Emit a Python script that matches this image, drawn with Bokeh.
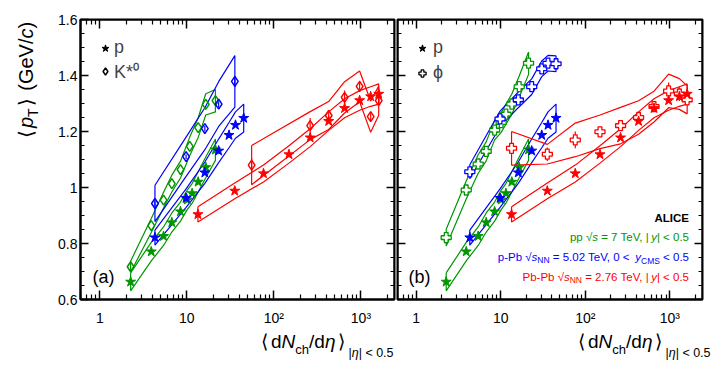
import math
from bokeh.plotting import figure
from bokeh.layouts import row, column
from bokeh.models import (Range1d, LogAxis, LinearAxis, FixedTicker, Label, Legend,
                          LegendItem, CustomJSTickFormatter, Div)
from bokeh.embed import file_html
from bokeh.resources import INLINE

# ---------------- data ----------------
x_tick_values = [1, 10, 100, 1000]
x_tick_labels = ["1", "10", "10²", "10³"]
y_tick_values = [0.6, 0.8, 1.0, 1.2, 1.4, 1.6]
y_tick_labels = ["0.6", "0.8", "1", "1.2", "1.4", "1.6"]

# pp 7 TeV
pp_dndeta = [2.26, 3.9, 5.4, 6.72, 8.45, 10.1, 11.5, 13.5, 16.5, 21.3]
pp_p_mean = [0.663, 0.771, 0.826, 0.875, 0.914, 0.956, 0.979, 1.020, 1.072, 1.135]
pp_p_sys = [0.032, 0.033, 0.033, 0.034, 0.034, 0.035, 0.035, 0.036, 0.037, 0.038]
pp_kst_dndeta = [2.26, 3.9, 5.4, 6.72, 8.45, 10.8, 13.5, 16.5, 21.3]
pp_kst_mean = [0.717, 0.864, 0.955, 1.014, 1.064, 1.147, 1.214, 1.297, 1.310]
pp_kst_sys = [0.020, 0.025, 0.028, 0.030, 0.030, 0.033, 0.035, 0.038, 0.040]
pp_phi_mean = [0.821, 0.991, 1.084, 1.129, 1.205, 1.232, 1.262, 1.298, 1.360, 1.444]
pp_phi_sys = [0.030, 0.032, 0.033, 0.034, 0.035, 0.035, 0.036, 0.036, 0.038, 0.040]

# p-Pb 5.02 TeV
ppb_dndeta = [4.3, 9.8, 16.1, 23.2, 30.5, 36.2, 45.0]
ppb_p_mean = [0.821, 0.962, 1.053, 1.131, 1.187, 1.223, 1.248]
ppb_p_sys = [0.027, 0.033, 0.038, 0.042, 0.045, 0.047, 0.050]
ppb_kst_dndeta = [4.3, 9.8, 16.1, 23.2, 35.6]
ppb_kst_mean = [0.943, 1.110, 1.210, 1.298, 1.379]
ppb_kst_sys = [0.065, 0.070, 0.075, 0.080, 0.092]
ppb_kst_stat = [0.008, 0.008, 0.010, 0.012, 0.020]
ppb_phi_mean = [1.056, 1.245, 1.313, 1.360, 1.424, 1.444, 1.442]
ppb_phi_sys = [0.025, 0.028, 0.028, 0.028, 0.028, 0.028, 0.028]

# Pb-Pb 2.76 TeV
pbpb_dndeta = [13.4, 35.5, 76, 149, 261, 426, 649, 966, 1294, 1601]
pbpb_p_mean = [0.904, 0.988, 1.050, 1.118, 1.178, 1.237, 1.283, 1.311, 1.325, 1.334]
pbpb_p_sys = [0.027, 0.028, 0.030, 0.031, 0.032, 0.033, 0.034, 0.035, 0.035, 0.036]
pbpb_kst_dndeta = [55.5, 261, 426, 649, 966, 1294, 1601]
pbpb_kst_mean = [1.080, 1.221, 1.257, 1.322, 1.361, 1.253, 1.310]
pbpb_kst_sys = [0.070, 0.050, 0.050, 0.056, 0.055, 0.056, 0.052]
pbpb_kst_stat = [0.025, 0.027, 0.012, 0.024, 0.020, 0.015, 0.015]
pbpb_phi_mean = [1.140, 1.119, 1.170, 1.199, 1.221, 1.250, 1.289, 1.345, 1.334, 1.313]
pbpb_phi_sys = [0.060, 0.035, 0.060, 0.060, 0.065, 0.060, 0.055, 0.060, 0.055, 0.050]
pbpb_phi_stat = [0.020, 0.024, 0.030, 0.015, 0.015, 0.012, 0.015, 0.030, 0.025, 0.015]

GREEN = "#009600"
BLUE = "#0000ff"
RED = "#ff0000"
FONT = "Liberation Sans"

X_RANGE = (0.6, 2430)
Y_RANGE = (0.6, 1.6)

x_minor = []
for dec in [0.1, 1, 10, 100, 1000]:
    for k in range(2, 10):
        v = dec * k
        if X_RANGE[0] <= v <= X_RANGE[1] and v not in x_tick_values:
            x_minor.append(v)
y_minor = [round(0.6 + 0.05 * i, 3) for i in range(21)]

# ---------------- geometry (page px) ----------------
YT_W = 46           # width of y-title column
FIG_H = 330
TOP = 19
BOT = 31            # frame bottom at 299
FL1, FL2, FB = 80, 397, 299

# ---------------- helpers ----------------
W = {' ': 278, ',': 278, '-': 333, '.': 278, '/': 278, '<': 584, '=': 584, '|': 260,
     '(': 333, ')': 333, 'A': 667, 'C': 722, 'E': 667, 'G': 778, 'I': 278, 'L': 556,
     'M': 833, 'N': 722, 'P': 667, 'S': 667, 'T': 611, 'V': 667, 'b': 556, 'c': 500,
     'd': 556, 'e': 556, 'h': 556, 'p': 556, 's': 500, 'y': 500, '√': 549}
WB = {'A': 722, 'L': 611, 'I': 278, 'C': 722, 'E': 667}


def tw(s, size, bold=False):
    tab = WB if bold else W
    return sum(tab.get(ch, W.get(ch, 556)) for ch in s) * size / 1000.0


def add_text(fig, fl, pieces, x0, y0, align="left", color="black"):
    total = sum(tw(t, sz, st == "bold") for t, sz, st, sh in pieces)
    cum = 0.0
    start = x0 - total if align == "right" else x0
    for t, sz, st, sh in pieces:
        lead = len(t) - len(t.lstrip(" "))
        core = t.strip(" ")
        fig.add_layout(Label(x=start + cum + tw(" " * lead, sz) - fl, y=FB - (y0 + sh),
                             x_units="screen", y_units="screen", text=core, text_font=FONT,
                             text_font_size=f"{sz}px", text_font_style=st,
                             text_color=color, text_align="left",
                             text_baseline="alphabetic"))
        cum += tw(t, sz, st == "bold")


def band(fig, x, y, s, color):
    xs = list(x) + list(x)[::-1]
    up = [a + b for a, b in zip(y, s)]
    lo = [a - b for a, b in zip(y, s)]
    ys = up + lo[::-1]
    xs.append(xs[0])
    ys.append(ys[0])
    fig.line(xs, ys, line_color=color, line_width=1.2)


def errs(fig, x, y, e, color):
    fig.segment(x0=x, y0=[a - b for a, b in zip(y, e)], x1=x,
                y1=[a + b for a, b in zip(y, e)], line_color=color, line_width=1.2)


def style_axis(ax, ticks, minor, labels, show, major_len, minor_len):
    ax.ticker = FixedTicker(ticks=ticks, minor_ticks=minor)
    ax.axis_line_width = 2
    ax.axis_line_color = "black"
    ax.major_tick_in = major_len
    ax.major_tick_out = 0
    ax.minor_tick_in = minor_len
    ax.minor_tick_out = 0
    ax.major_tick_line_width = 1.5
    ax.minor_tick_line_width = 1.2
    ax.axis_label = None
    if show:
        ax.major_label_overrides = dict(zip(ticks, labels))
        ax.major_label_text_font = FONT
        ax.major_label_text_font_size = "14px"
        ax.major_label_text_color = "black"
    else:
        ax.formatter = CustomJSTickFormatter(code="return ''")
        ax.major_label_text_font_size = "0px"
        ax.major_label_standoff = 0


def make_fig(width, bl, br, ylabels):
    p = figure(width=width, height=FIG_H, x_axis_type="log",
               x_range=Range1d(*X_RANGE), y_range=Range1d(*Y_RANGE),
               output_backend="svg", toolbar_location=None,
               min_border_left=bl, min_border_right=br, min_border_top=TOP,
               min_border_bottom=BOT)
    p.xgrid.visible = False
    p.ygrid.visible = False
    p.outline_line_color = "black"
    p.outline_line_width = 2
    p.background_fill_color = "white"
    p.border_fill_color = "white"
    style_axis(p.xaxis[0], x_tick_values, x_minor, x_tick_labels, True, 9, 5)
    p.xaxis[0].major_label_standoff = 10
    style_axis(p.yaxis[0], y_tick_values, y_minor, y_tick_labels, ylabels, 8, 4)
    if ylabels:
        p.yaxis[0].major_label_standoff = 3
    else:
        p.yaxis[0].fixed_location = X_RANGE[0]
    top = LogAxis(fixed_location=Y_RANGE[1])
    style_axis(top, x_tick_values, x_minor, x_tick_labels, False, 9, 5)
    p.add_layout(top, "above")
    right = LinearAxis(fixed_location=X_RANGE[1])
    style_axis(right, y_tick_values, y_minor, y_tick_labels, False, 8, 4)
    p.add_layout(right, "right")
    return p


def legend(fig, items, loc, standoff, spacing):
    lg = Legend(items=items, location=loc, border_line_color=None,
                background_fill_alpha=0, padding=0, margin=0, spacing=spacing,
                glyph_width=18, glyph_height=20, label_height=20,
                label_standoff=standoff, label_text_font=FONT,
                label_text_font_size="18px")
    fig.add_layout(lg)


NAN = float("nan")

# ---------------- panel (a) ----------------
p1 = make_fig(396 - YT_W, FL1 - YT_W, 2, True)
band(p1, pp_dndeta, pp_p_mean, pp_p_sys, GREEN)
band(p1, pp_kst_dndeta, pp_kst_mean, pp_kst_sys, GREEN)
band(p1, ppb_dndeta, ppb_p_mean, ppb_p_sys, BLUE)
band(p1, ppb_kst_dndeta, ppb_kst_mean, ppb_kst_sys, BLUE)
band(p1, pbpb_dndeta, pbpb_p_mean, pbpb_p_sys, RED)
band(p1, pbpb_kst_dndeta, pbpb_kst_mean, pbpb_kst_sys, RED)
errs(p1, ppb_kst_dndeta, ppb_kst_mean, ppb_kst_stat, BLUE)
errs(p1, pbpb_kst_dndeta, pbpb_kst_mean, pbpb_kst_stat, RED)
for xs, ys, c in [(pp_kst_dndeta, pp_kst_mean, GREEN), (ppb_kst_dndeta, ppb_kst_mean, BLUE),
                  (pbpb_kst_dndeta, pbpb_kst_mean, RED)]:
    p1.scatter(xs, ys, marker="diamond", size=10, line_color=c, fill_color=None, line_width=1.5)
for xs, ys, c in [(pp_dndeta, pp_p_mean, GREEN), (ppb_dndeta, ppb_p_mean, BLUE),
                  (pbpb_dndeta, pbpb_p_mean, RED)]:
    p1.scatter(xs, ys, marker="star", size=10.5, line_color=c, fill_color=c, line_width=1)

la_star = p1.scatter([1], [NAN], marker="star", line_color="black", fill_color="black")
la_diam = p1.scatter([1], [NAN], marker="diamond", line_color="black", fill_color=None,
                     line_width=1.5)
legend(p1, [LegendItem(label="p", renderers=[la_star]),
            LegendItem(label="K*⁰", renderers=[la_diam])], (16, 216), 0, 1)
add_text(p1, FL1, [("(a)", 18, "normal", 0)], 92, 276)

# ---------------- panel (b) ----------------
p2 = make_fig(320, FL2 - 396, 14, False)
band(p2, pp_dndeta, pp_p_mean, pp_p_sys, GREEN)
band(p2, pp_dndeta, pp_phi_mean, pp_phi_sys, GREEN)
band(p2, ppb_dndeta, ppb_p_mean, ppb_p_sys, BLUE)
band(p2, ppb_dndeta, ppb_phi_mean, ppb_phi_sys, BLUE)
band(p2, pbpb_dndeta, pbpb_p_mean, pbpb_p_sys, RED)
band(p2, pbpb_dndeta, pbpb_phi_mean, pbpb_phi_sys, RED)
errs(p2, pbpb_dndeta, pbpb_phi_mean, pbpb_phi_stat, RED)
for xs, ys, c in [(pp_dndeta, pp_phi_mean, GREEN), (ppb_dndeta, ppb_phi_mean, BLUE),
                  (pbpb_dndeta, pbpb_phi_mean, RED)]:
    p2.scatter(xs, ys, marker="plus", size=10, line_color=c, fill_color="white", line_width=1.3)
for xs, ys, c in [(pp_dndeta, pp_p_mean, GREEN), (ppb_dndeta, ppb_p_mean, BLUE),
                  (pbpb_dndeta, pbpb_p_mean, RED)]:
    p2.scatter(xs, ys, marker="star", size=10.5, line_color=c, fill_color=c, line_width=1)

lb_star = p2.scatter([1], [NAN], marker="star", line_color="black", fill_color="black")
lb_plus = p2.scatter([1], [NAN], marker="plus", line_color="black", fill_color="white",
                     line_width=1.3)
legend(p2, [LegendItem(label="p", renderers=[lb_star]),
            LegendItem(label="ϕ", renderers=[lb_plus])], (16, 216), 2, 4)

FS, FSS = 11.5, 8.5
add_text(p2, FL2, [("(b)", 18, "normal", 0)], 408, 276)
add_text(p2, FL2, [("ALICE", 11.5, "bold", 0)], 688.5, 217, align="right")
add_text(p2, FL2, [("pp ", FS, "normal", 0), ("√", FS, "normal", 0),
                   ("s", FS, "italic", 0), (" = 7 TeV, |", FS, "normal", 0),
                   ("y", FS, "italic", 0), ("| < 0.5", FS, "normal", 0)],
         688.5, 236.5, align="right", color=GREEN)
add_text(p2, FL2, [("p-Pb ", FS, "normal", 0), ("√", FS, "normal", 0),
                   ("s", FS, "italic", 0), ("NN", FSS, "normal", 3),
                   (" = 5.02 TeV, 0 < ", FS, "normal", 0), ("y", FS, "italic", 0),
                   ("CMS", FSS, "normal", 4), (" < 0.5", FS, "normal", 0)],
         688.5, 256, align="right", color=BLUE)
add_text(p2, FL2, [("Pb-Pb ", FS, "normal", 0), ("√", FS, "normal", 0),
                   ("s", FS, "italic", 0), ("NN", FSS, "normal", 3),
                   (" = 2.76 TeV, |", FS, "normal", 0), ("y", FS, "italic", 0),
                   ("| < 0.5", FS, "normal", 0)],
         688.5, 276, align="right", color=RED)

# ---------------- axis titles (HTML text) ----------------
BR = '<span style="margin:0 {m}px">{c}</span>'
ytitle_html = (
    '<div style="font-family:\'Liberation Sans\';font-size:20px;line-height:20px;'
    'white-space:nowrap;width:max-content;transform-origin:0 0;'
    'transform:translate(16px,140px) rotate(-90deg);color:black">'
    + BR.format(m=2, c="⟨") + '<i>p</i><span style="font-size:14px;position:relative;top:5px">T</span>'
    + BR.format(m=2, c="⟩") + ' (GeV/<i>c</i>)</div>')
xtitle_html = (
    '<div style="font-family:\'Liberation Sans\';font-size:19px;line-height:19px;'
    'white-space:nowrap;width:max-content;transform:translate({x}px,2px);color:black">'
    + BR.format(m=3, c="⟨") + 'd<i>N</i><span style="font-size:13px;position:relative;top:6px">ch</span>'
    + '/d<i>η</i>' + BR.format(m=3, c="⟩")
    + '<span style="font-size:12.5px;position:relative;top:9px">|<i>η</i>| &lt; 0.5</span></div>')

div_y = Div(text=ytitle_html, width=YT_W, height=FIG_H, margin=0)
div_xa = Div(text=xtitle_html.format(x=258), width=396, height=40, margin=0)
div_xb = Div(text=xtitle_html.format(x=575 - 396), width=320, height=40, margin=0)

layout = column(row(div_y, p1, p2), row(div_xa, div_xb))
open("out.html", "w").write(file_html(layout, INLINE))
